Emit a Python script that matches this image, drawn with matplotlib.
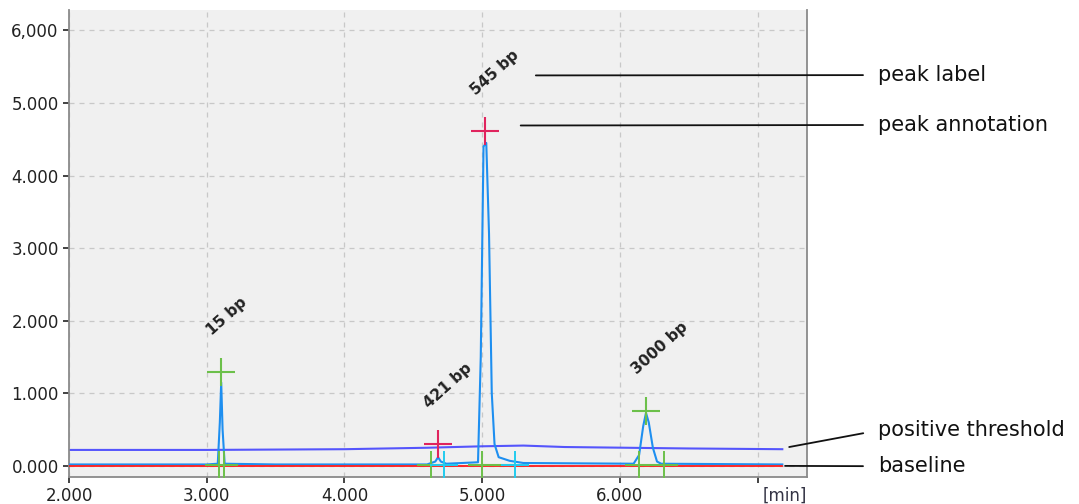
#!/usr/bin/env python3
"""Electropherogram with peak labels, peak annotations, threshold and baseline."""

import matplotlib.pyplot as plt

# signal trace (min, thousands of RFU)
sig_t = [2.0, 3.0, 3.08, 3.095, 3.105, 3.115, 3.13, 3.5, 4.6, 4.66, 4.68, 4.70,
         4.74, 4.97, 4.99, 5.01, 5.03, 5.05, 5.07, 5.09, 5.12, 5.2, 5.3, 6.1,
         6.14, 6.17, 6.19, 6.21, 6.24, 6.27, 6.3, 7.18]
sig_v = [0.02, 0.02, 0.03, 0.6, 1.15, 0.5, 0.03, 0.02, 0.02, 0.06, 0.12, 0.06,
         0.03, 0.05, 1.5, 4.4, 4.45, 3.2, 1.0, 0.3, 0.12, 0.07, 0.04, 0.03,
         0.15, 0.55, 0.73, 0.6, 0.25, 0.06, 0.03, 0.02]

# positive threshold and baseline
thr_t = [2.0, 3.0, 4.0, 4.6, 5.0, 5.3, 5.6, 6.5, 7.18]
thr_v = [0.22, 0.22, 0.23, 0.25, 0.27, 0.28, 0.26, 0.24, 0.23]
base_t = [2.0, 7.18]
base_v = [0.0, 0.0]

# peaks
peak_labels = ["15 bp", "421 bp", "545 bp", "3000 bp"]
peak_t = [3.105, 4.68, 5.02, 6.19]
peak_v = [1.3, 0.30, 4.61, 0.76]
peak_colors = ["#6cc04a", "#e0245e", "#e0245e", "#6cc04a"]
start_t = [3.09, 4.63, 5.0, 6.14]
end_t = [3.125, 4.72, 5.24, 6.32]
end_colors = ["#6cc04a", "#22ccee", "#22ccee", "#6cc04a"]

yticks = [0, 1, 2, 3, 4, 5, 6]
ytick_labels = ["0.000", "1.000", "2.000", "3.000", "4.000", "5.000", "6,000"]
xticks = [2, 3, 4, 5, 6, 7]
xtick_labels = ["2.000", "3.000", "4.000", "5.000", "6.000", ""]

fig = plt.figure(figsize=(10.79, 5.04), dpi=100)
ax = fig.add_axes([0.064, 0.054, 0.684, 0.926])
ax.set_facecolor("#f0f0f0")

ax.plot(sig_t, sig_v, color="#1e8ff0", lw=1.5, zorder=3)
ax.plot(base_t, base_v, color="#ff1a1a", lw=1.3, zorder=3.5)
ax.plot(thr_t, thr_v, color="#3a3aff", lw=1.5, alpha=0.85, zorder=2)

green = "#6cc04a"
for s, e, ec in zip(start_t, end_t, end_colors):
    ax.plot([s, e], [0.01, 0.01], color=green, lw=1.5, zorder=4)
    ax.plot(s, 0.01, marker="+", ms=20, mew=1.4, color=green, zorder=4)
    ax.plot(e, 0.01, marker="+", ms=20, mew=1.4, color=ec, zorder=4)

for lab, t, v, c in zip(peak_labels, peak_t, peak_v, peak_colors):
    ax.plot(t, v, marker="+", ms=20, mew=1.5, color=c, zorder=5)
    ax.annotate(lab, xy=(t, v), xytext=(-5, 24), textcoords="offset points",
                rotation=42, rotation_mode="anchor", ha="left", va="bottom",
                fontsize=11, fontweight="bold", color="#222222")

ax.set_xlim(2, 7.36)
ax.set_ylim(-0.15, 6.28)
ax.set_xticks(xticks)
ax.set_xticklabels(xtick_labels)
ax.set_yticks(yticks)
ax.set_yticklabels(ytick_labels)
ax.tick_params(labelsize=12, colors="#222222", length=4, width=1.2)
ax.text(7.2, -0.021, "[min]", transform=ax.get_xaxis_transform(),
        ha="center", va="top", fontsize=12, color="#333344")
ax.grid(True, color="#c8c8c8", linestyle=(0, (4, 4)), lw=0.9)
ax.set_axisbelow(True)

for side in ["left", "right", "bottom"]:
    ax.spines[side].set_color("#8a8a8a")
    ax.spines[side].set_linewidth(1.3)
ax.spines["top"].set_visible(False)

# callouts on the right: text, point on the chart, text height (figure fraction)
callouts = [("peak label", (5.39, 5.38), 0.851),
            ("peak annotation", (5.28, 4.69), 0.752),
            ("positive threshold", (7.23, 0.26), 0.146),
            ("baseline", (7.20, 0.0), 0.075)]
for txt, xy, fy in callouts:
    ax.annotate(txt, xy=xy, xytext=(0.814, fy), textcoords="figure fraction",
                ha="left", va="center", fontsize=15, color="#111111",
                annotation_clip=False,
                arrowprops=dict(arrowstyle="-", color="#111111", lw=1.3,
                                shrinkA=9, shrinkB=0, relpos=(0, 0.5)))

fig.savefig("out.png", dpi=100)
